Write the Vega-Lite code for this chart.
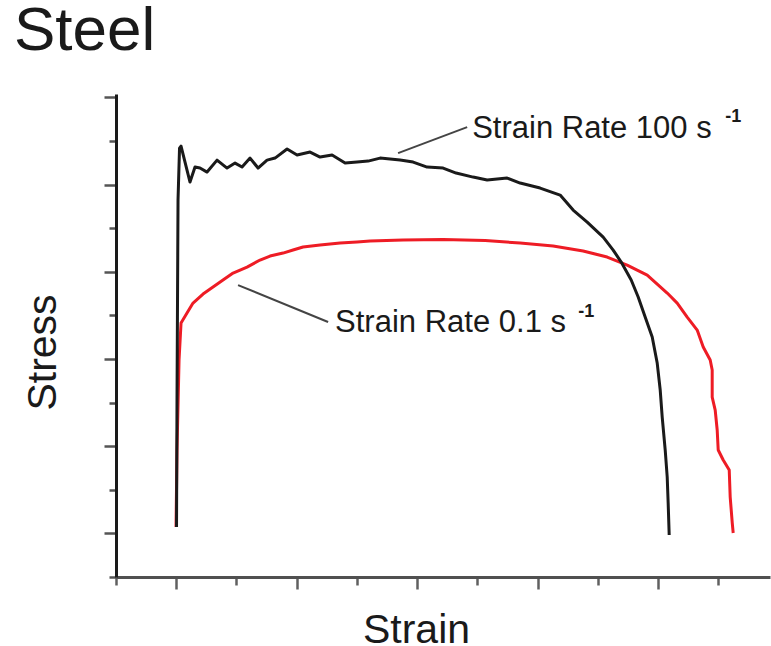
{
  "$schema": "https://vega.github.io/schema/vega-lite/v6.json",
  "width": 654,
  "height": 483,
  "autosize": {"type": "none"},
  "padding": {"left": 116, "top": 94, "right": 1, "bottom": 69},
  "background": "white",
  "config": {"view": {"stroke": null}, "font": "Liberation Sans"},
  "title": {"text": "Steel", "anchor": "start", "frame": "group", "fontSize": 62, "font": "Liberation Sans", "fontWeight": "normal", "color": "#1a1a1a", "dx": -102, "baseline": "alphabetic", "offset": -18},
  "datasets": {
    "curves": [
      {"series": "0.1", "i": 0, "x": 0.997, "y": 1.147},
      {"series": "0.1", "i": 1, "x": 1.013, "y": 2.913},
      {"series": "0.1", "i": 2, "x": 1.047, "y": 4.977},
      {"series": "0.1", "i": 3, "x": 1.080, "y": 5.826},
      {"series": "0.1", "i": 4, "x": 1.179, "y": 6.055},
      {"series": "0.1", "i": 5, "x": 1.279, "y": 6.284},
      {"series": "0.1", "i": 6, "x": 1.445, "y": 6.491},
      {"series": "0.1", "i": 7, "x": 1.611, "y": 6.651},
      {"series": "0.1", "i": 8, "x": 1.777, "y": 6.812},
      {"series": "0.1", "i": 9, "x": 1.944, "y": 6.972},
      {"series": "0.1", "i": 10, "x": 2.176, "y": 7.110},
      {"series": "0.1", "i": 11, "x": 2.392, "y": 7.271},
      {"series": "0.1", "i": 12, "x": 2.558, "y": 7.362},
      {"series": "0.1", "i": 13, "x": 2.774, "y": 7.431},
      {"series": "0.1", "i": 14, "x": 2.940, "y": 7.500},
      {"series": "0.1", "i": 15, "x": 3.106, "y": 7.569},
      {"series": "0.1", "i": 16, "x": 3.389, "y": 7.615},
      {"series": "0.1", "i": 17, "x": 3.721, "y": 7.661},
      {"series": "0.1", "i": 18, "x": 4.003, "y": 7.683},
      {"series": "0.1", "i": 19, "x": 4.219, "y": 7.706},
      {"series": "0.1", "i": 20, "x": 4.767, "y": 7.729},
      {"series": "0.1", "i": 21, "x": 5.432, "y": 7.741},
      {"series": "0.1", "i": 22, "x": 6.130, "y": 7.718},
      {"series": "0.1", "i": 23, "x": 6.711, "y": 7.661},
      {"series": "0.1", "i": 24, "x": 7.259, "y": 7.592},
      {"series": "0.1", "i": 25, "x": 7.757, "y": 7.477},
      {"series": "0.1", "i": 26, "x": 8.156, "y": 7.339},
      {"series": "0.1", "i": 27, "x": 8.488, "y": 7.156},
      {"series": "0.1", "i": 28, "x": 8.654, "y": 7.041},
      {"series": "0.1", "i": 29, "x": 8.821, "y": 6.927},
      {"series": "0.1", "i": 30, "x": 8.987, "y": 6.720},
      {"series": "0.1", "i": 31, "x": 9.153, "y": 6.514},
      {"series": "0.1", "i": 32, "x": 9.319, "y": 6.284},
      {"series": "0.1", "i": 33, "x": 9.485, "y": 5.963},
      {"series": "0.1", "i": 34, "x": 9.651, "y": 5.665},
      {"series": "0.1", "i": 35, "x": 9.751, "y": 5.275},
      {"series": "0.1", "i": 36, "x": 9.867, "y": 4.977},
      {"series": "0.1", "i": 37, "x": 9.900, "y": 4.748},
      {"series": "0.1", "i": 38, "x": 9.900, "y": 4.128},
      {"series": "0.1", "i": 39, "x": 9.950, "y": 3.830},
      {"series": "0.1", "i": 40, "x": 9.983, "y": 3.372},
      {"series": "0.1", "i": 41, "x": 10.000, "y": 2.913},
      {"series": "0.1", "i": 42, "x": 10.083, "y": 2.683},
      {"series": "0.1", "i": 43, "x": 10.183, "y": 2.454},
      {"series": "0.1", "i": 44, "x": 10.199, "y": 1.835},
      {"series": "0.1", "i": 45, "x": 10.233, "y": 1.239},
      {"series": "0.1", "i": 46, "x": 10.249, "y": 1.009},
      {"series": "100", "i": 0, "x": 1.005, "y": 1.147},
      {"series": "100", "i": 1, "x": 1.013, "y": 4.060},
      {"series": "100", "i": 2, "x": 1.030, "y": 8.647},
      {"series": "100", "i": 3, "x": 1.055, "y": 9.839},
      {"series": "100", "i": 4, "x": 1.080, "y": 9.885},
      {"series": "100", "i": 5, "x": 1.146, "y": 9.518},
      {"series": "100", "i": 6, "x": 1.229, "y": 9.060},
      {"series": "100", "i": 7, "x": 1.312, "y": 9.404},
      {"series": "100", "i": 8, "x": 1.395, "y": 9.381},
      {"series": "100", "i": 9, "x": 1.512, "y": 9.289},
      {"series": "100", "i": 10, "x": 1.678, "y": 9.564},
      {"series": "100", "i": 11, "x": 1.844, "y": 9.381},
      {"series": "100", "i": 12, "x": 1.977, "y": 9.495},
      {"series": "100", "i": 13, "x": 2.093, "y": 9.404},
      {"series": "100", "i": 14, "x": 2.226, "y": 9.610},
      {"series": "100", "i": 15, "x": 2.359, "y": 9.381},
      {"series": "100", "i": 16, "x": 2.508, "y": 9.564},
      {"series": "100", "i": 17, "x": 2.641, "y": 9.610},
      {"series": "100", "i": 18, "x": 2.841, "y": 9.817},
      {"series": "100", "i": 19, "x": 3.007, "y": 9.679},
      {"series": "100", "i": 20, "x": 3.223, "y": 9.748},
      {"series": "100", "i": 21, "x": 3.389, "y": 9.633},
      {"series": "100", "i": 22, "x": 3.588, "y": 9.679},
      {"series": "100", "i": 23, "x": 3.804, "y": 9.495},
      {"series": "100", "i": 24, "x": 4.003, "y": 9.518},
      {"series": "100", "i": 25, "x": 4.186, "y": 9.541},
      {"series": "100", "i": 26, "x": 4.385, "y": 9.610},
      {"series": "100", "i": 27, "x": 4.551, "y": 9.587},
      {"series": "100", "i": 28, "x": 4.718, "y": 9.564},
      {"series": "100", "i": 29, "x": 4.934, "y": 9.518},
      {"series": "100", "i": 30, "x": 5.166, "y": 9.404},
      {"series": "100", "i": 31, "x": 5.432, "y": 9.381},
      {"series": "100", "i": 32, "x": 5.648, "y": 9.266},
      {"series": "100", "i": 33, "x": 5.930, "y": 9.174},
      {"series": "100", "i": 34, "x": 6.163, "y": 9.106},
      {"series": "100", "i": 35, "x": 6.495, "y": 9.151},
      {"series": "100", "i": 36, "x": 6.711, "y": 9.037},
      {"series": "100", "i": 37, "x": 7.043, "y": 8.922},
      {"series": "100", "i": 38, "x": 7.375, "y": 8.761},
      {"series": "100", "i": 39, "x": 7.591, "y": 8.417},
      {"series": "100", "i": 40, "x": 7.824, "y": 8.142},
      {"series": "100", "i": 41, "x": 8.090, "y": 7.798},
      {"series": "100", "i": 42, "x": 8.256, "y": 7.500},
      {"series": "100", "i": 43, "x": 8.389, "y": 7.225},
      {"series": "100", "i": 44, "x": 8.555, "y": 6.812},
      {"series": "100", "i": 45, "x": 8.671, "y": 6.422},
      {"series": "100", "i": 46, "x": 8.787, "y": 5.963},
      {"series": "100", "i": 47, "x": 8.904, "y": 5.505},
      {"series": "100", "i": 48, "x": 8.987, "y": 4.908},
      {"series": "100", "i": 49, "x": 9.037, "y": 4.289},
      {"series": "100", "i": 50, "x": 9.070, "y": 3.670},
      {"series": "100", "i": 51, "x": 9.120, "y": 2.913},
      {"series": "100", "i": 52, "x": 9.153, "y": 2.294},
      {"series": "100", "i": 53, "x": 9.169, "y": 1.697},
      {"series": "100", "i": 54, "x": 9.186, "y": 0.963}
    ],
    "leaders": [
      {"x": 4.684, "y": 9.725, "x2": 5.831, "y2": 10.321},
      {"x": 2.027, "y": 6.697, "x2": 3.522, "y2": 5.849}
    ],
    "labels": [
      {"x": 5.914, "y": 10.07, "label": "Strain Rate 100 s"},
      {"x": 3.638, "y": 5.619, "label": "Strain Rate 0.1 s"}
    ],
    "sups": [
      {"x": 10.116, "y": 10.436, "label": "-1"},
      {"x": 7.674, "y": 5.963, "label": "-1"}
    ]
  },
  "layer": [
    {
      "data": {"name": "curves"},
      "transform": [{"filter": "datum.series == '0.1'"}],
      "mark": {"type": "line", "color": "#ee1c25", "strokeWidth": 3, "strokeJoin": "round"},
      "encoding": {
        "x": {"field": "x", "type": "quantitative", "scale": {"domain": [0, 10.86], "nice": false, "zero": false},
          "axis": {"values": [0, 1, 2, 3, 4, 5, 6, 7, 8, 9, 10], "labels": false, "grid": false, "title": "Strain",
            "titleFontSize": 41, "titleFontWeight": "normal", "titleFont": "Liberation Sans", "titleColor": "#1a1a1a",
            "titleX": 300, "titleY": 65, "titleBaseline": "alphabetic", "titleAlign": "center",
            "domainColor": "#505050", "domainWidth": 3, "tickColor": "#606060", "tickWidth": 2.5,
            "tickSize": {"condition": {"test": "datum.value % 2 == 1", "value": 12}, "value": 8}}},
        "y": {"field": "y", "type": "quantitative", "scale": {"domain": [0, 11.08], "nice": false, "zero": false},
          "axis": {"values": [0, 1, 2, 3, 4, 5, 6, 7, 8, 9, 10, 11], "labels": false, "grid": false, "title": "Stress",
            "titleFontSize": 41, "titleFontWeight": "normal", "titleFont": "Liberation Sans", "titleColor": "#1a1a1a",
            "titleX": -61, "titleY": 258, "titleBaseline": "alphabetic", "titleAlign": "center", "titleAngle": -90,
            "domainColor": "#1a1a1a", "domainWidth": 3, "tickColor": "#555555", "tickWidth": 2.5,
            "tickSize": {"condition": {"test": "datum.value % 2 == 1", "value": 12}, "value": 7}}},
        "order": {"field": "i", "type": "quantitative"}
      }
    },
    {
      "data": {"name": "curves"},
      "transform": [{"filter": "datum.series == '100'"}],
      "mark": {"type": "line", "color": "#1a1a1a", "strokeWidth": 3, "strokeJoin": "round"},
      "encoding": {
        "x": {"field": "x", "type": "quantitative"},
        "y": {"field": "y", "type": "quantitative"},
        "order": {"field": "i", "type": "quantitative"}
      }
    },
    {
      "data": {"name": "leaders"},
      "mark": {"type": "rule", "color": "#444444", "strokeWidth": 2},
      "encoding": {
        "x": {"field": "x", "type": "quantitative"},
        "y": {"field": "y", "type": "quantitative"},
        "x2": {"field": "x2"},
        "y2": {"field": "y2"}
      }
    },
    {
      "data": {"name": "labels"},
      "mark": {"type": "text", "align": "left", "baseline": "alphabetic", "fontSize": 31, "font": "Liberation Sans", "color": "#1a1a1a"},
      "encoding": {
        "x": {"field": "x", "type": "quantitative"},
        "y": {"field": "y", "type": "quantitative"},
        "text": {"field": "label"}
      }
    },
    {
      "data": {"name": "sups"},
      "mark": {"type": "text", "align": "left", "baseline": "alphabetic", "fontSize": 18, "font": "Liberation Sans", "fontWeight": "bold", "color": "#1a1a1a"},
      "encoding": {
        "x": {"field": "x", "type": "quantitative"},
        "y": {"field": "y", "type": "quantitative"},
        "text": {"field": "label"}
      }
    }
  ]
}
